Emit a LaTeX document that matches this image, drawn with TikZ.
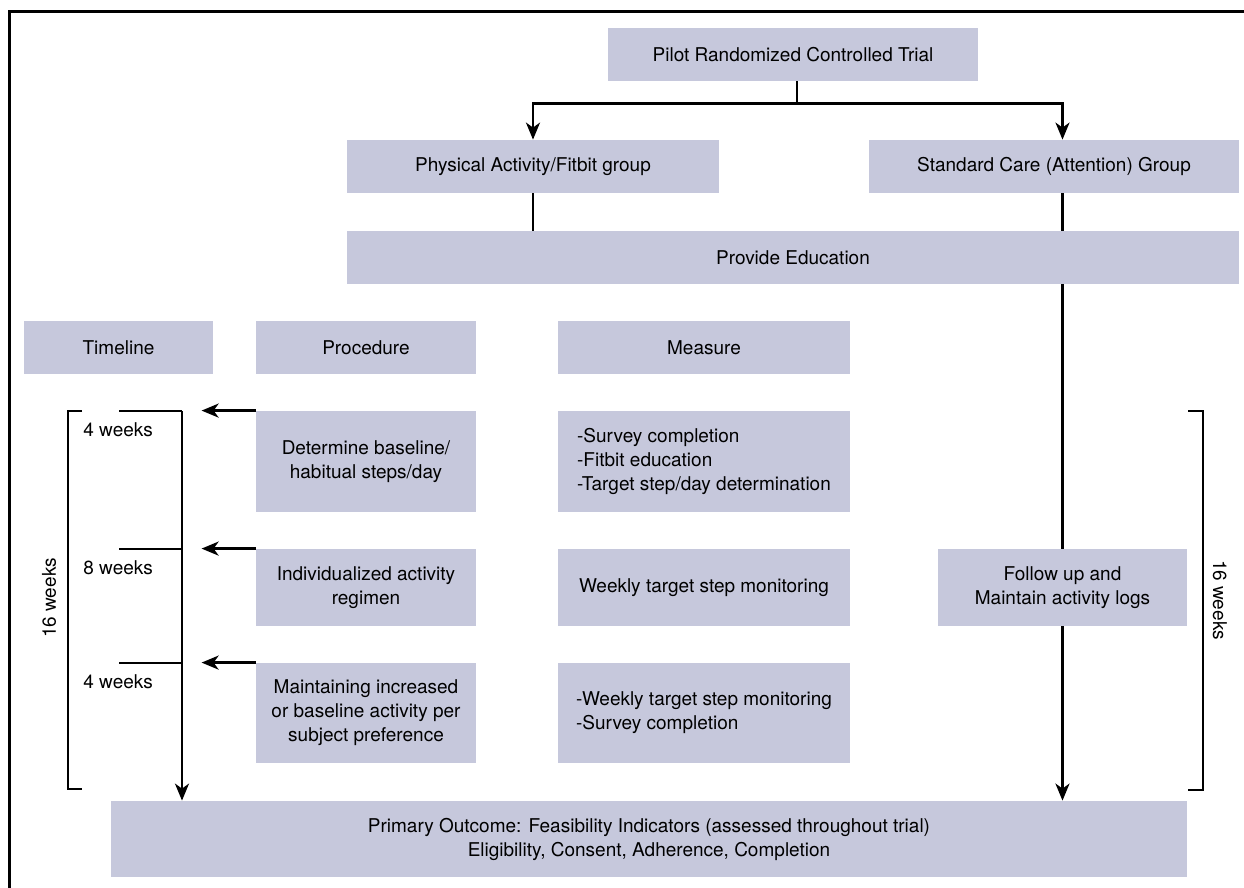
\documentclass[tikz,border=0pt]{standalone}
\usepackage{fontspec}
\setmainfont{TeX Gyre Heros}
\usetikzlibrary{arrows.meta,calc}
\definecolor{boxfill}{RGB}{198,200,220}
\newcommand\figfont{\fontsize{9.5}{12}\selectfont}
\tikzset{
  bx/.style={fill=boxfill, inner sep=0pt, align=center, font=\figfont},
  lbl/.style={inner sep=0pt, font=\figfont},
  conn/.style={line width=1.2pt},
  arr/.style={line width=1.2pt, -{Stealth[length=8.5pt,width=7pt,inset=2.5pt]}},
}
\begin{document}
\begin{tikzpicture}[x=0.5pt,y=-0.5pt]
\useasboundingbox (0,0) rectangle (1244,888);
\draw[line width=1.5pt] (9,888) -- (9,12) -- (1244,12);

% top part
\node[bx, minimum width=185pt, minimum height=26.5pt] (pilot) at (793,54.5) {Pilot Randomized Controlled Trial};
\node[bx, minimum width=186pt, minimum height=26.5pt] (pa) at (533,166.5) {Physical Activity/Fitbit group};
\node[bx, minimum width=185pt, minimum height=26.5pt] (sc) at (1054,166.5) {Standard Care (Attention) Group};
\node[bx, minimum width=446pt, minimum height=26.5pt] (edu) at (793,257.5) {Provide Education};

% headers
\node[bx, minimum width=94.5pt, minimum height=26.5pt] (timeline) at (118.5,347.5) {Timeline};
\node[bx, minimum width=110pt, minimum height=26.5pt] (proc) at (366,347.5) {Procedure};
\node[bx, minimum width=146pt, minimum height=26.5pt] (meas) at (704,347.5) {Measure};

% procedures
\node[bx, minimum width=110pt, minimum height=50.5pt] (p1) at (366,461.5) {Determine baseline/\\habitual steps/day};
\node[bx, minimum width=110pt, minimum height=38.5pt] (p2) at (366,587.5) {Individualized activity\\regimen};
\node[bx, minimum width=110pt, minimum height=50pt] (p3) at (366,713) {Maintaining increased\\or baseline activity per\\subject preference};

% measures
\node[bx, minimum width=146pt, minimum height=50.5pt, align=left] (m1) at (704,461.5) {-Survey completion\\-Fitbit education\\-Target step/day determination};
\node[bx, minimum width=146pt, minimum height=38.5pt] (m2) at (704,587.5) {Weekly target step monitoring};
\node[bx, minimum width=146pt, minimum height=50pt, align=left] (m3) at (704,713) {-Weekly target step monitoring\\-Survey completion};

% standard care follow up
\node[bx, minimum width=124.5pt, minimum height=38.5pt] (follow) at (1062.5,587.5) {Follow up and\\Maintain activity logs};

% primary outcome
\node[bx, minimum width=538pt, minimum height=38pt] (primary) at (649,839) {Primary Outcome: Feasibility Indicators (assessed throughout trial)\\Eligibility, Consent, Adherence, Completion};

% connectors top
\draw[conn] ($(pilot.south)+(4,0)$) -- ++(0,22) coordinate (split);
\draw[arr] (split) -| (pa.north);
\draw[arr] (split) -| (sc.north -| follow.north);
\draw[conn] (pa.south) -- (pa.south |- edu.north);
\draw[conn] (sc.south -| follow.north) -- (edu.north -| follow.north);
\draw[conn] (edu.south -| follow.north) -- (follow.north);
\draw[arr] (follow.south) -- (primary.north -| follow.south);

% timeline axis
\coordinate (t0) at (182,411);
\coordinate (t1) at (182,549);
\coordinate (t2) at (182,663);
\draw[conn] (119,411) -- (t0);
\draw[conn] (119,549) -- (t1);
\draw[conn] (119,663) -- (t2);
\draw[arr] (t0) -- (primary.north -| t0);

\draw[arr] (p1.north west) -- ++(-54,0);
\draw[arr] (p2.north west) -- ++(-54,0);
\draw[arr] (p3.north west) -- ++(-54,0);

% brackets
\draw[conn] (82,411) -- (68,411) -- (68,789) -- (82,789);
\draw[conn] (1188,411) -- (1203,411) -- (1203,790) -- (1188,790);

% labels
\node[lbl, anchor=west] (w1) at (83,430) {4 weeks};
\node[lbl, anchor=west] (w2) at (83,568) {8 weeks};
\node[lbl, anchor=west] (w3) at (83,682) {4 weeks};
\node[lbl, rotate=90] (w16l) at (49,598) {16 weeks};
\node[lbl, rotate=-90] (w16r) at (1220,600) {16 weeks};
\end{tikzpicture}
\end{document}
